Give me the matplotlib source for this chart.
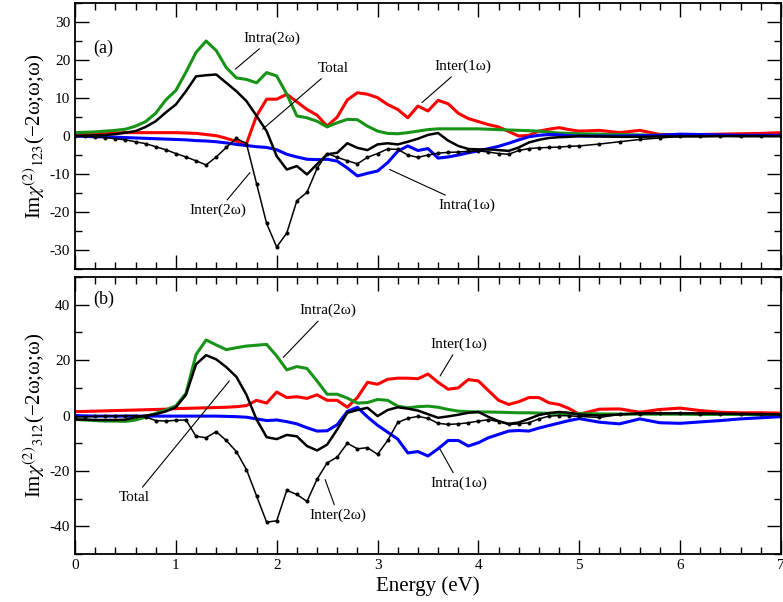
import matplotlib
matplotlib.use("Agg")
import matplotlib.pyplot as plt
from matplotlib.ticker import MultipleLocator

plt.rcParams['font.family'] = ['Liberation Serif', 'DejaVu Serif']
plt.rcParams['mathtext.fontset'] = 'stix'
plt.rcParams['axes.unicode_minus'] = False

# photon energy (eV)
energy = [0.0, 0.1, 0.2, 0.3, 0.4, 0.5, 0.6, 0.7, 0.8, 0.9,
          1.0, 1.1, 1.2, 1.3, 1.4, 1.5, 1.6, 1.7, 1.8, 1.9,
          2.0, 2.1, 2.2, 2.3, 2.4, 2.5, 2.6, 2.7, 2.8, 2.9,
          3.0, 3.1, 3.2, 3.3, 3.4, 3.5, 3.6, 3.7, 3.8, 3.9,
          4.0, 4.1, 4.2, 4.3, 4.4, 4.5, 4.6, 4.7, 4.8, 4.9,
          5.0, 5.2, 5.4, 5.6, 5.8, 6.0, 6.2, 6.4, 6.6, 6.8, 7.0]

# ---- panel (a): Im chi_123 ----
total_a = [0.0, 0.1, 0.2, 0.3, 0.5, 0.9, 1.3, 2.4, 3.9, 6.2,
           8.3, 11.8, 15.7, 16.0, 16.2, 14.0, 11.8, 9.2, 5.3, 1.3,
           -5.3, -8.8, -7.9, -10.1, -7.4, -4.8, -4.4, -1.9, -3.1, -3.7,
           -2.2, -1.9, -2.2, -1.5, -0.7, 0.3, 0.8, -1.2, -2.6, -3.4,
           -3.5, -3.5, -3.7, -3.9, -3.0, -1.7, -1.0, -0.5, -0.3, -0.2,
           0.0, -0.1, -0.2, -0.2, -0.1, -0.1, -0.1, 0.0, 0.0, 0.0, 0.0]
inter2w_a = [0.0, -0.1, -0.2, -0.4, -0.7, -1.0, -1.5, -2.0, -2.8, -3.6,
             -4.6, -5.5, -6.5, -7.6, -5.5, -3.0, -0.6, -2.0, -12.5, -23.0,
             -29.2, -25.5, -17.0, -14.8, -8.5, -4.6, -5.6, -6.5, -7.3, -5.6,
             -4.6, -3.4, -3.5, -5.0, -5.6, -5.0, -4.5, -4.3, -4.2, -4.0,
             -3.9, -4.2, -4.6, -4.8, -3.8, -3.3, -3.1, -3.0, -2.9, -2.7,
             -2.6, -2.1, -1.5, -0.9, -0.5, -0.1, 0.0, 0.0, -0.1, -0.1, 0.0]
intra2w_a = [0.9, 1.0, 1.1, 1.3, 1.5, 1.8, 2.6, 3.8, 6.0, 9.5,
             12.0, 16.8, 22.0, 25.0, 22.5, 18.0, 15.3, 14.9, 14.0, 16.7,
             15.8, 11.0, 5.3, 4.8, 3.9, 2.4, 3.5, 4.4, 4.3, 2.6,
             1.3, 0.7, 0.6, 0.9, 1.3, 1.7, 1.9, 1.9, 1.9, 1.9,
             1.9, 1.8, 1.7, 1.6, 1.5, 1.4, 1.3, 1.0, 0.8, 0.7,
             0.6, 0.5, 0.4, 0.3, 0.2, 0.2, 0.1, 0.1, 0.1, 0.1, 0.1]
inter1w_a = [0.4, 0.5, 0.6, 0.7, 0.8, 0.9, 0.9, 0.9, 0.9, 0.9,
             0.9, 0.8, 0.7, 0.4, 0.1, -0.6, -1.4, -2.0, 5.3, 9.7,
             9.7, 11.0, 9.0, 7.0, 5.5, 2.6, 5.0, 9.5, 11.4, 11.0,
             10.1, 8.3, 7.0, 4.8, 7.9, 6.6, 9.4, 8.5, 6.0, 4.6,
             3.8, 3.0, 2.4, 1.2, 0.0, 0.2, 1.3, 1.8, 2.2, 1.7,
             1.3, 1.5, 0.9, 1.5, 0.4, 0.4, 0.4, 0.5, 0.6, 0.7, 0.9]
intra1w_a = [0.0, -0.1, -0.2, -0.2, -0.3, -0.4, -0.5, -0.6, -0.7, -0.8,
             -0.9, -1.0, -1.2, -1.3, -1.5, -1.8, -2.2, -2.5, -2.8, -3.0,
             -3.6, -4.8, -5.5, -6.1, -6.2, -6.1, -6.6, -8.4, -10.5, -9.8,
             -9.2, -7.0, -4.0, -2.6, -3.8, -3.3, -5.8, -5.5, -5.0, -4.4,
             -3.9, -3.3, -2.7, -1.9, -1.0, -0.2, 0.2, 0.4, 0.3, 0.1,
             0.0, 0.0, 0.0, 0.1, 0.2, 0.5, 0.4, 0.3, 0.2, 0.2, 0.2]

# ---- panel (b): Im chi_312 ----
total_b = [-1.4, -1.5, -1.6, -1.6, -1.6, -1.5, -0.6, 0.0, 0.5, 1.5,
           3.0, 7.5, 18.5, 21.8, 20.3, 17.5, 14.0, 7.5, -1.4, -7.8,
           -8.5, -7.0, -7.5, -11.0, -12.6, -10.5, -5.0, 1.0, 2.0, 2.8,
           -0.2, 2.0, 3.0, 2.5, 1.8, 0.5, -0.8, -0.3, 0.3, 1.0,
           1.3, -0.5, -2.0, -3.0, -2.5, -1.2, 0.2, 0.9, 1.3, 1.0,
           0.4, 0.0, 0.4, 0.8, 0.8, 0.8, 0.8, 0.7, 0.6, 0.5, 0.4]
inter2w_b = [-0.5, -0.4, -0.3, -0.2, -0.1, 0.0, 0.0, -0.5, -1.8, -2.0,
             -1.7, -1.6, -7.5, -8.0, -5.8, -9.0, -13.0, -19.5, -29.0, -38.5,
             -38.0, -27.0, -28.5, -31.0, -23.0, -17.1, -15.0, -10.0, -12.0, -11.6,
             -14.0, -9.0, -2.5, -1.0, -0.3, -1.0, -2.8, -3.2, -3.0, -2.6,
             -2.0, -1.5, -2.2, -3.2, -3.0, -2.6, -1.2, -0.2, 0.0, -0.1,
             -0.3, -0.7, 0.4, 0.7, 0.8, 0.8, 0.7, 0.6, 0.5, 0.4, 0.3]
intra2w_b = [-1.4, -1.6, -1.8, -2.0, -2.0, -2.1, -1.6, -0.6, 0.8, 2.0,
             3.5, 8.0, 22.0, 27.3, 25.5, 23.8, 24.5, 25.1, 25.4, 25.7,
             21.5, 16.5, 17.7, 17.0, 12.5, 7.7, 7.7, 6.3, 4.5, 4.7,
             5.8, 5.5, 3.4, 2.8, 3.2, 3.4, 3.0, 2.2, 1.6, 1.4,
             1.3, 1.3, 1.2, 1.1, 1.0, 1.0, 0.9, 0.8, 0.8, 0.7,
             0.7, 0.6, 0.5, 0.5, 0.5, 0.5, 0.4, 0.4, 0.4, 0.3, 0.3]
inter1w_b = [1.4, 1.5, 1.6, 1.7, 1.8, 1.9, 2.0, 2.1, 2.2, 2.3,
             2.5, 2.6, 2.7, 2.8, 2.9, 3.0, 3.2, 3.6, 5.5, 4.5,
             8.5, 6.5, 6.8, 6.2, 7.5, 5.5, 5.5, 3.0, 6.5, 12.0,
             11.3, 13.1, 13.5, 13.5, 13.3, 15.0, 12.0, 9.5, 10.0, 13.0,
             12.5, 9.0, 5.5, 4.0, 5.0, 6.5, 6.5, 4.6, 4.0, 2.5,
             0.5, 2.3, 2.4, 1.2, 2.2, 2.7, 1.8, 1.2, 1.0, 1.0, 0.9]
intra1w_b = [0.0, -0.1, -0.2, -0.2, -0.2, -0.2, -0.2, -0.2, -0.2, -0.2,
             -0.2, -0.2, -0.2, -0.2, -0.2, -0.3, -0.4, -0.6, -1.2, -1.8,
             -1.6, -2.2, -3.0, -4.4, -5.6, -5.5, -3.3, 1.5, 3.0, -0.5,
             -3.5, -6.0, -8.5, -13.5, -13.0, -14.6, -12.0, -9.0, -9.0, -11.0,
             -9.8, -8.0, -6.8, -5.6, -5.4, -5.6, -4.5, -3.6, -2.7, -1.8,
             -1.1, -2.4, -3.0, -1.2, -2.6, -2.8, -2.3, -1.8, -1.2, -0.8, -0.4]

GREEN = '#179417'


def draw_panel(ax, total, inter2w, intra2w, inter1w, intra1w):
    ax.plot(energy, inter1w, color='red', lw=2.2, zorder=2)
    ax.plot(energy, intra2w, color=GREEN, lw=2.2, zorder=2)
    ax.plot(energy, intra1w, color='blue', lw=2.2, zorder=2)
    ax.plot(energy, inter2w, color='black', lw=1.1, marker='o', ms=1.9, zorder=3)
    ax.plot(energy, total, color='black', lw=1.8, zorder=4)

    ax.set_xlim(0, 7)
    ax.xaxis.set_major_locator(MultipleLocator(1))
    ax.xaxis.set_minor_locator(MultipleLocator(0.2))
    ax.tick_params(which='both', direction='in', top=True, right=True,
                   labelsize=11, width=1.0)
    ax.tick_params(which='major', length=10)
    ax.tick_params(which='minor', length=5)
    for sp in ax.spines.values():
        sp.set_linewidth(1.3)


def label(ax, txt, tip, pos):
    ax.annotate(txt, xy=tip, xytext=pos, ha='center', va='center', fontsize=11,
                arrowprops=dict(arrowstyle='-', lw=0.8, color='black',
                                shrinkA=1, shrinkB=0))


fig = plt.figure(figsize=(7.83, 6.02), dpi=100)
ax1 = fig.add_axes([0.0958, 0.553, 0.9016, 0.442])
ax2 = fig.add_axes([0.0958, 0.0797, 0.9016, 0.460])

draw_panel(ax1, total_a, inter2w_a, intra2w_a, inter1w_a, intra1w_a)
ax1.set_ylim(-35, 35)
ax1.yaxis.set_major_locator(MultipleLocator(10))
ax1.yaxis.set_minor_locator(MultipleLocator(5))
ax1.tick_params(labelbottom=False)
ax1.set_ylabel(r'Im$\chi^{(2)}{}_{123}$(−2ω;ω;ω)', fontsize=15, labelpad=2)
ax1.text(0.026, 0.83, '(a)', transform=ax1.transAxes, fontsize=13, va='center')
label(ax1, 'Intra(2ω)', (1.59, 17.6), (1.95, 25.7))
label(ax1, 'Total', (1.86, 1.8), (2.56, 17.8))
label(ax1, 'Inter(2ω)', (1.735, -9.6), (1.42, -19.6))
label(ax1, 'Inter(1ω)', (3.44, 8.8), (3.85, 18.3))
label(ax1, 'Intra(1ω)', (3.12, -8.8), (3.89, -18.2))

draw_panel(ax2, total_b, inter2w_b, intra2w_b, inter1w_b, intra1w_b)
ax2.set_ylim(-50, 50)
ax2.yaxis.set_major_locator(MultipleLocator(20))
ax2.yaxis.set_minor_locator(MultipleLocator(10))
ax2.set_ylabel(r'Im$\chi^{(2)}{}_{312}$(−2ω;ω;ω)', fontsize=15, labelpad=2)
ax2.set_xlabel('Energy (eV)', fontsize=15, labelpad=3)
ax2.text(0.026, 0.92, '(b)', transform=ax2.transAxes, fontsize=13, va='center')
label(ax2, 'Intra(2ω)', (2.065, 21.0), (2.51, 37.9))
label(ax2, 'Total', (1.53, 12.5), (0.585, -29.6))
label(ax2, 'Inter(2ω)', (2.48, -23.1), (2.61, -36.1))
label(ax2, 'Inter(1ω)', (3.62, 14.3), (3.81, 25.8))
label(ax2, 'Intra(1ω)', (3.62, -12.2), (3.81, -24.5))

fig.savefig('out.png', dpi=100)
